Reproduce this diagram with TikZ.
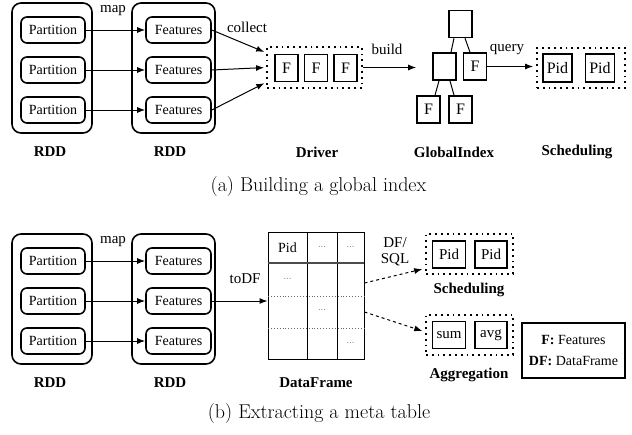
\documentclass[tikz,border=0pt]{standalone}
\usepackage{fontspec}
\newfontfamily\tms{Liberation Serif}
\usetikzlibrary{arrows.meta,calc}
\begin{document}
\begin{tikzpicture}[x=1pt,y=-1pt,
  rdd/.style={draw,line width=1.6pt,rounded corners=9pt,minimum width=80pt,minimum height=130pt,inner sep=0pt},
  part/.style={draw,line width=1.6pt,rounded corners=6pt,minimum width=64pt,minimum height=26pt,inner sep=0pt,font=\tms\fontsize{14}{16}\selectfont},
  feat/.style={part,minimum width=65pt},
  fbox/.style={draw,line width=1.6pt,minimum width=23pt,minimum height=27pt,inner sep=0pt,font=\tms\fontsize{16}{18}\selectfont},
  pidbox/.style={draw,line width=1.6pt,minimum width=29pt,minimum height=28pt,inner sep=0pt,font=\tms\fontsize{16}{18}\selectfont},
  sbox/.style={draw,line width=1.6pt,minimum width=33pt,minimum height=27pt,inner sep=0pt,font=\tms\fontsize{15}{17}\selectfont},
  dotbox/.style={draw,line width=1.8pt,dash pattern=on 1.8pt off 4pt,inner sep=0pt},
  lbl/.style={font=\tms\bfseries\fontsize{15}{17}\selectfont},
  elbl/.style={font=\tms\fontsize{15}{17}\selectfont},
  arr/.style={-{Latex[length=8pt,width=6pt]},line width=1pt},
  darr/.style={arr,dashed},
  cell/.style={font=\tms\fontsize{14}{16}\selectfont},
  dots/.style={font=\tms\fontsize{8}{10}\selectfont,text=black!70},
  capt/.style={font=\fontsize{20}{24}\selectfont}
]
\useasboundingbox (0,0) rectangle (632,434);

% ---------- (a) ----------
\node[rdd] (ra1) at (52,68) {};
\node[rdd,minimum width=83pt] (ra2) at (173.5,68) {};
\foreach \i/\y in {1/30,2/70,3/110}{
  \node[part] (pa\i) at (53,\y) {Partition};
  \node[feat] (fa\i) at (178.5,\y) {Features};
  \draw[arr] (pa\i.east) -- (fa\i.west);
}
\node[elbl] (mapa) at (113,11) {map};
\node[lbl] (lra1) at (50,152) {RDD};
\node[lbl] (lra2) at (170,152) {RDD};

\node[dotbox,minimum width=95pt,minimum height=41pt] (drv) at (314.5,67.5) {};
\node[fbox] (d1) at (286.5,68) {F};
\node[fbox] (d2) at (316,68) {F};
\node[fbox] (d3) at (345.5,68) {F};
\draw[arr,shorten >=2pt] (fa1.east) -- (drv.163);
\draw[arr,shorten >=2pt] (fa2.east) -- (drv.west);
\draw[arr,shorten >=2pt] (fa3.east) -- (drv.197);
\node[elbl] (coll) at (247,27) {collect};
\node[lbl] (ldrv) at (317,152) {Driver};

\node[fbox] (t0) at (460.5,24) {};
\node[fbox] (t1) at (444.5,66.5) {};
\node[fbox] (t2) at (475,66.5) {F};
\node[fbox] (t3) at (428.5,109.5) {F};
\node[fbox] (t4) at (460.5,109.5) {F};
\draw[line width=1pt] ($(t0.south)+(-6.5,0)$) -- ($(t1.north)+(6.5,0)$);
\draw[line width=1pt] ($(t0.south)+(4.5,0)$) -- ($(t2.north)+(-5,0)$);
\draw[line width=1pt] ($(t1.south)+(-5.5,0)$) -- ($(t3.north)+(6.5,0)$);
\draw[line width=1pt] ($(t1.south)+(5.5,0)$) -- ($(t4.north)+(-6.5,0)$);
\draw[arr,shorten >=16pt] (drv.east) -- (drv.east -| t1.west);
\node[elbl] (build) at (387,49) {build};
\node[lbl] (lgi) at (454,152) {GlobalIndex};

\node[dotbox,minimum width=88pt,minimum height=40pt] (sch) at (581,68) {};
\node[pidbox] (s1) at (557.5,68) {Pid};
\node[pidbox] (s2) at (600,68) {Pid};
\draw[arr,shorten >=3pt] (t2.east) -- (t2.east -| sch.west);
\node[elbl] (query) at (507,50) {query};
\node[lbl] (lsch) at (577,152) {Scheduling};

\node[capt] (capa) at (318.5,187) {(a) Building a global index};

% ---------- (b) ----------
\node[rdd] (rb1) at (52,299) {};
\node[rdd,minimum width=83pt] (rb2) at (173.5,299) {};
\foreach \i/\y in {1/261,2/301,3/341}{
  \node[part] (pb\i) at (53,\y) {Partition};
  \node[feat] (fb\i) at (178.5,\y) {Features};
  \draw[arr] (pb\i.east) -- (fb\i.west);
}
\node[elbl] (mapb) at (113,242) {map};
\node[lbl] (lrb1) at (50,383) {RDD};
\node[lbl] (lrb2) at (170,383) {RDD};

% table
\node[draw,line width=1pt,minimum width=96pt,minimum height=127pt,inner sep=0pt] (tbl) at (316,295.5) {};
\draw[line width=1pt] (307,232) -- (307,359);
\draw[line width=1pt] (337,232) -- (337,359);
\draw[line width=1.6pt,black!70] (268,263) -- (364,263);
\draw[line width=0.9pt,black!60,dotted] (268,296) -- (364,296);
\draw[line width=0.9pt,black!60,dotted] (268,328) -- (364,328);
\node[cell] (pidh) at (287.5,248) {Pid};
\node[dots] at (322,248) {\textperiodcentered\textperiodcentered\textperiodcentered};
\node[dots] at (350.5,248) {\textperiodcentered\textperiodcentered\textperiodcentered};
\node[dots] at (287.5,280) {\textperiodcentered\textperiodcentered\textperiodcentered};
\node[dots] at (322,311) {\textperiodcentered\textperiodcentered\textperiodcentered};
\node[dots] at (350.5,344) {\textperiodcentered\textperiodcentered\textperiodcentered};
\draw[arr] (fb2.east) -- (fb2.east -| tbl.west);
\node[elbl] (todf) at (245,279) {toDF};
\node[lbl] (ldf) at (316,383) {DataFrame};

\node[dotbox,minimum width=87pt,minimum height=40pt] (sch2) at (469.5,254) {};
\node[sbox] (q1) at (449,254.5) {Pid};
\node[sbox,minimum width=32pt] (q2) at (491,254.5) {Pid};
\node[lbl] (lsch2) at (469,290) {Scheduling};

\node[dotbox,minimum width=87pt,minimum height=40pt] (agg) at (469.5,335) {};
\node[sbox] (g1) at (449,335) {sum};
\node[sbox,minimum width=32pt] (g2) at (491,335) {avg};
\node[lbl] (lagg) at (469,375) {Aggregation};

\draw[darr,shorten >=3pt] ($(tbl.east)+(0,-12.5)$) -- (sch2.198);
\draw[darr,shorten >=3pt] ($(tbl.east)+(0,16.5)$) -- (agg.176);
\node[elbl,align=center,inner sep=0pt] (dfsql) at (395,252) {DF/\\[-1pt]SQL};

\node[draw,line width=1.2pt,minimum width=103pt,minimum height=55pt,align=center,inner sep=0pt,font=\tms\fontsize{14}{21}\selectfont] (leg) at (573.5,350.5) {\textbf{F:} Features\\\textbf{DF:} DataFrame};

\node[capt] (capb) at (319,414) {(b) Extracting a meta table};
\end{tikzpicture}
\end{document}
